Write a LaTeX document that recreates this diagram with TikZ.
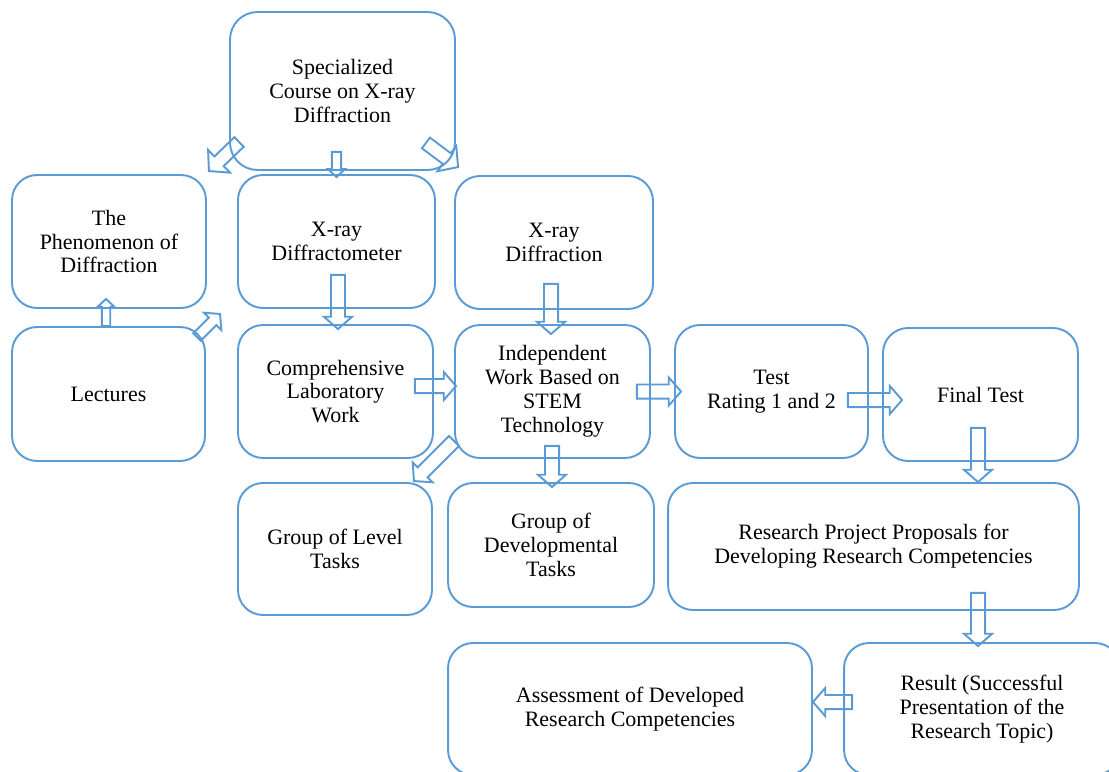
\documentclass[tikz,border=0pt]{standalone}
\usepackage{fontspec}
\setmainfont{Liberation Serif}
\usetikzlibrary{calc}
\definecolor{boxblue}{HTML}{5B9BD5}
\tikzset{
  box/.style={draw=boxblue, line width=1.1pt, rounded corners=0.5cm, align=center, inner sep=0pt,
    font=\fontsize{12.5}{13.6}\selectfont},
  barrow/.style={draw=boxblue, line width=1.1pt, line join=miter},
  bshaft/.store in=\bsw, bhead/.store in=\bhw, btip/.store in=\bhl,
  bshaft=4pt, bhead=8pt, btip=7pt
}
% hollow block arrow: #2 tail, #3 tip
\newcommand\blockarrow[3][]{%
  \draw[barrow,#1] let \p1=#2, \p2=#3, \p3=($(\p2)!\bhl!(\p1)$) in
    ($(\p1)!\bsw!90:(\p2)$) -- ($(\p3)!\bsw!90:(\p2)$) -- ($(\p3)!\bhw!90:(\p2)$) -- (\p2)
    -- ($(\p3)!\bhw!-90:(\p2)$) -- ($(\p3)!\bsw!-90:(\p2)$) -- ($(\p1)!\bsw!-90:(\p2)$) -- cycle;
}

\begin{document}
\begin{tikzpicture}[x=0.02cm,y=-0.02cm]
	\useasboundingbox (0,0) rectangle (1109,771);
	\clip (0,0) rectangle (1109,771);
	\node[box, rounded corners=0.55cm, minimum width=4.5cm, minimum height=3.16cm] (spec) at (342.5,91) {Specialized\\Course on X-ray\\Diffraction};
	\node[box, minimum width=3.88cm, minimum height=2.66cm] (phen) at (109,241.5) {The\\Phenomenon of\\Diffraction};
	\node[box, minimum width=3.94cm, minimum height=2.66cm] (dmeter) at (336.5,241.5) {X-ray\\Diffractometer};
	\node[box, minimum width=3.96cm, minimum height=2.66cm] (xrd) at (554,242.5) {X-ray\\Diffraction};
	\node[box, minimum width=3.86cm, minimum height=2.68cm] (lect) at (108.5,394) {Lectures};
	\node[box, minimum width=3.9cm, minimum height=2.66cm] (lab) at (335.5,391.5) {Comprehensive\\Laboratory\\Work};
	\node[box, minimum width=3.9cm, minimum height=2.66cm] (indep) at (552.5,391.5) {Independent\\Work Based on\\STEM\\Technology};
	\node[box, minimum width=3.86cm, minimum height=2.66cm] (test) at (771.5,391.5) {Test\\Rating 1 and 2};
	\node[box, minimum width=3.9cm, minimum height=2.66cm] (final) at (980.5,394.5) {Final Test};
	\node[box, minimum width=3.88cm, minimum height=2.64cm] (level) at (335,549) {Group of Level\\Tasks};
	\node[box, minimum width=4.12cm, minimum height=2.48cm] (devel) at (551,545) {Group of\\Developmental\\Tasks};
	\node[box, minimum width=8.22cm, minimum height=2.54cm] (resp) at (873.5,546.5) {Research Project Proposals for\\Developing Research Competencies};
	\node[box, minimum width=7.28cm, minimum height=2.64cm] (assess) at (630,709) {Assessment of Developed\\Research Competencies};
	\node[box, minimum width=5.52cm, minimum height=2.64cm] (result) at (982,709) {Result (Successful\\Presentation of the\\Research Topic)};

	\blockarrow[bshaft=3.8pt,bhead=9pt,btip=8pt]{($(spec.south west)+(10,-29)$)}{($(phen.north east)+(2,-3)$)}
	\blockarrow[bshaft=2.6pt,bhead=4.8pt,btip=4.5pt]{($(spec.south)+(-6,-19)$)}{($(dmeter.north)+(0,3)$)}
	\blockarrow[bshaft=3.8pt,bhead=9pt,btip=8pt]{($(spec.south east)+(-30,-28)$)}{($(xrd.north west)+(4,-8)$)}
	\blockarrow[bshaft=2.4pt,bhead=4.8pt,btip=4.5pt]{($(lect.north)+(-2.5,0)$)}{($(phen.south)+(-3,-10)$)}
	\blockarrow[bshaft=3pt,bhead=7pt,btip=6pt]{($(lect.north east)+(-9,11)$)}{($(dmeter.south west)+(-17,5)$)}
	\blockarrow{($(dmeter.south)+(1.5,-34)$)}{($(lab.north)+(2.5,5)$)}
	\blockarrow{($(xrd.south)+(-3,-26)$)}{($(indep.north)+(-1.5,10)$)}
	\blockarrow{($(lab.east)+(-19,-5.5)$)}{($(indep.west)+(2,-5.5)$)}
	\blockarrow{($(indep.east)+(-14,0)$)}{($(test.west)+(7,0)$)}
	\blockarrow{($(test.east)+(-21,8.5)$)}{($(final.west)+(20,5.5)$)}
	\blockarrow{($(indep.south west)+(0,-18)$)}{($(level.north east)+(-19,-1)$)}
	\blockarrow{($(indep.south)+(-0.5,-13)$)}{($(devel.north)+(1,5)$)}
	\blockarrow{($(final.south)+(-2.5,-34)$)}{($(resp.north -| final.south)+(-2.5,0)$)}
	\blockarrow{($(resp.south -| result.north)+(-4,-18)$)}{($(result.north)+(-4,4)$)}
	\blockarrow{($(result.west)+(9,-7)$)}{($(assess.east)+(0,-7)$)}
\end{tikzpicture}
\end{document}
